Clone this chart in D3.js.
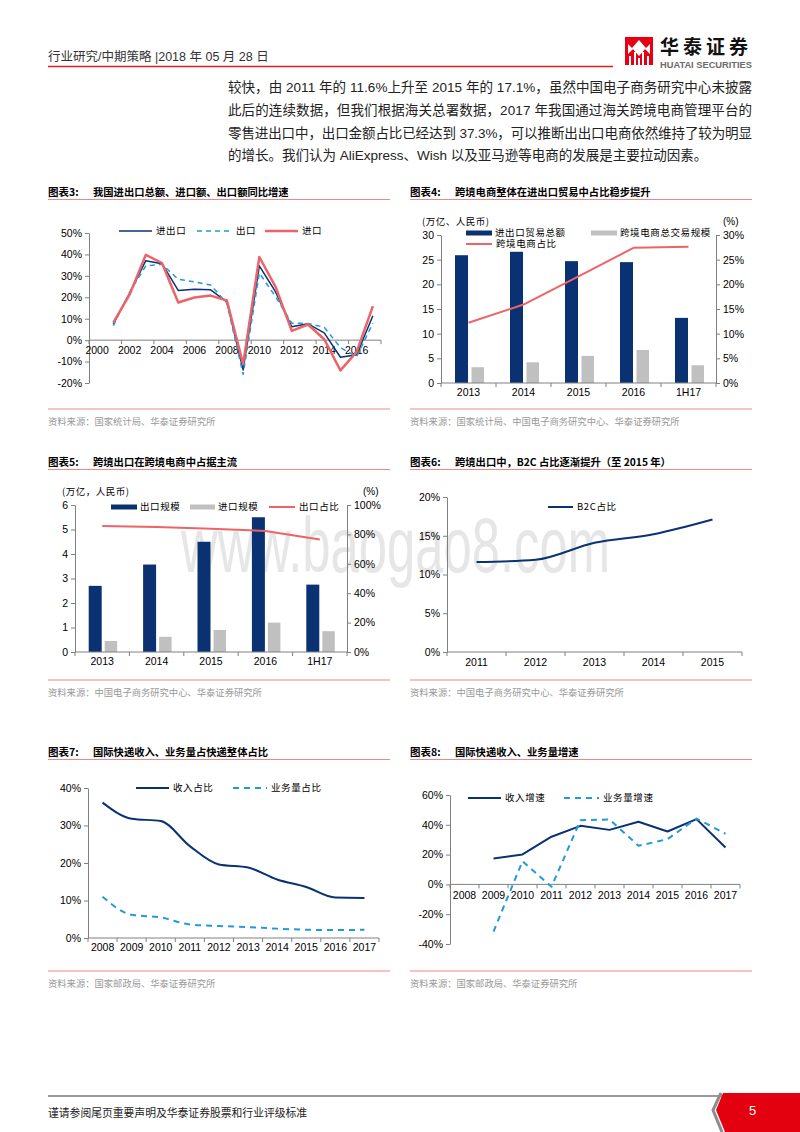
<!DOCTYPE html>
<html>
<head>
<meta charset="utf-8">
<script src="https://cdn.jsdelivr.net/npm/d3@7/dist/d3.min.js"></script>
<style>
  body { margin: 0; background: #fff; }
  svg text { font-family: "Liberation Sans", Arial, "Noto Sans CJK SC", sans-serif; }
</style>
</head>
<body>
<svg id="page" width="800" height="1132"></svg>
<script>
// ---- data ----
var tradeYears = ["2000","2001","2002","2003","2004","2005","2006","2007","2008","2009","2010","2011","2012","2013","2014","2015","2016","2017"];
var tradeLineYears = ["2001","2002","2003","2004","2005","2006","2007","2008","2009","2010","2011","2012","2013","2014","2015","2016","2017"];
var tradeTotal  = [7.5, 21.8, 37.1, 35.7, 23.2, 23.8, 23.5, 17.8, -13.9, 34.7, 22.5, 6.2, 7.6, 3.4, -8.0, -6.8, 11.4];
var tradeExport = [6.8, 22.4, 34.6, 35.4, 28.4, 27.2, 25.7, 17.2, -16.0, 31.3, 20.3, 7.9, 7.8, 6.0, -3.5, -7.7, 7.9];
var tradeImport = [8.2, 21.2, 39.8, 36.0, 17.6, 19.9, 20.8, 18.5, -11.2, 38.8, 24.9, 4.3, 7.3, 0.4, -14.1, -5.5, 15.9];
var tradeTicks = [-20, -10, 0, 10, 20, 30, 40, 50];

var cbCats  = ["2013","2014","2015","2016","1H17"];
var cbTrade = [25.9, 26.6, 24.7, 24.5, 13.2];
var cbEcom  = [3.2, 4.2, 5.5, 6.7, 3.6];
var cbShare = [12.2, 15.9, 21.6, 27.4, 27.6];
var cbTicks = [0, 5, 10, 15, 20, 25, 30];

var exCats   = ["2013","2014","2015","2016","1H17"];
var exExport = [2.7, 3.57, 4.5, 5.5, 2.75];
var exImport = [0.45, 0.62, 0.9, 1.2, 0.85];
var exShare  = [85.7, 85.0, 83.9, 82.3, 76.6];
var exTicks  = [0, 1, 2, 3, 4, 5, 6];
var exPctTicks = [0, 20, 40, 60, 80, 100];

var b2cYears = ["2011","2012","2013","2014","2015"];
var b2cShare = [11.6, 11.9, 14.1, 15.2, 17.1];
var b2cTicks = [0, 5, 10, 15, 20];

var expYears = ["2008","2009","2010","2011","2012","2013","2014","2015","2016","2017"];
var revShare = [36.1, 31.8, 31.2, 24.5, 19.6, 18.8, 15.6, 13.6, 10.8, 10.7];
var volShare = [11.0, 6.2, 5.5, 3.6, 3.2, 2.9, 2.5, 2.2, 2.1, 2.2];
var shareTicks = [0, 10, 20, 30, 40];

var growthYears = ["2009","2010","2011","2012","2013","2014","2015","2016","2017"];
var revGrowth = [17.4, 20.1, 32.0, 39.3, 36.6, 42.0, 35.5, 43.8, 24.8];
var volGrowth = [-31.7, 15.6, -1.6, 43.1, 43.6, 25.9, 30.4, 44.2, 34.0];
var growthTicks = [-40, -20, 0, 20, 40, 60];

// ---- look ----
var navy = "#0a3272", sky = "#1f9bd7", salmon = "#ec6468", grey = "#c0c0c0";
var axisColor = "#808080", cjk = "'Noto Sans CJK SC', sans-serif";
var pct = function(d) { return d + "%"; };

var svg = d3.select("#page");

// watermark behind everything
svg.append("text")
    .attr("x", 181).attr("y", 572)
    .attr("textLength", 429).attr("lengthAdjust", "spacingAndGlyphs")
    .style("font-size", "77px").style("fill", "#e6e6e6")
    .text("www.baogao8.com");

// ---- page header ----
svg.append("text")
    .attr("x", 48).attr("y", 61)
    .style("font-size", "12.5px").style("fill", "#333")
    .text("行业研究/中期策略 |2018 年 05 月 28 日");
svg.append("line")
    .attr("x1", 48).attr("x2", 613).attr("y1", 66.5).attr("y2", 66.5)
    .attr("stroke", "#e0201b").attr("stroke-width", 1.5);

var logo = svg.append("g");
logo.append("rect").attr("x", 625).attr("y", 37).attr("width", 28).attr("height", 28).attr("fill", "#e60012");
logo.append("path")
    .attr("d", "M639,40 L646,48 L639,56 L632,48 Z M628,44 L633,49 L628,54 Z M650,44 L645,49 L650,54 Z")
    .attr("fill", "#fff");
logo.append("path")
    .attr("d", "M629,56 h2 v9 h-2 Z M634,52 h2 v13 h-2 Z M638,58 h2 v7 h-2 Z M642,52 h2 v13 h-2 Z M647,56 h2 v9 h-2 Z")
    .attr("fill", "#fff");
logo.append("text")
    .attr("x", 660).attr("y", 54)
    .style("font-family", cjk).style("font-weight", "bold").style("font-size", "19px")
    .style("letter-spacing", "4px").style("fill", "#111")
    .text("华泰证券");
logo.append("text")
    .attr("x", 660).attr("y", 67.5)
    .attr("textLength", 92).attr("lengthAdjust", "spacingAndGlyphs")
    .style("font-size", "8.5px").style("font-weight", "bold").style("fill", "#6b6b6b")
    .text("HUATAI SECURITIES");

// ---- paragraph ----
var paraLines = [
  "较快，由 2011 年的 11.6%上升至 2015 年的 17.1%，虽然中国电子商务研究中心未披露",
  "此后的连续数据，但我们根据海关总署数据，2017 年我国通过海关跨境电商管理平台的",
  "零售进出口中，出口金额占比已经达到 37.3%，可以推断出出口电商依然维持了较为明显",
  "的增长。我们认为 AliExpress、Wish 以及亚马逊等电商的发展是主要拉动因素。"
];
svg.selectAll(".para").data(paraLines).join("text")
    .attr("class", "para")
    .attr("x", 228)
    .attr("y", function(d, i) { return 92 + i * 22.8; })
    .attr("textLength", function(d, i) { return i < 3 ? 524 : null; })
    .attr("lengthAdjust", "spacing")
    .style("font-size", "13.5px").style("fill", "#222")
    .text(function(d) { return d; });

// ---- shared pieces ----
function frame(x0, titleY, label, title, sourceY, source) {
  svg.append("text").attr("x", x0).attr("y", titleY + 4)
      .style("font-family", cjk).style("font-weight", "bold").style("font-size", "10.5px")
      .text(label);
  svg.append("text").attr("x", x0 + 45).attr("y", titleY + 4)
      .style("font-family", cjk).style("font-weight", "bold").style("font-size", "10.3px")
      .text(title);
  svg.append("line").attr("x1", x0).attr("x2", x0 + 342).attr("y1", titleY + 7.5).attr("y2", titleY + 7.5)
      .attr("stroke", "#e88a86").attr("stroke-width", 1.2);
  svg.append("line").attr("x1", x0).attr("x2", x0 + 342).attr("y1", sourceY - 12).attr("y2", sourceY - 12)
      .attr("stroke", "#e88a86").attr("stroke-width", 1.2);
  svg.append("text").attr("x", x0).attr("y", sourceY + 3.5)
      .style("font-family", cjk).style("font-size", "9.3px").style("fill", "#999")
      .text(source);
}

function styleAxis(sel) {
  sel.select(".domain").attr("stroke", axisColor);
  sel.selectAll(".tick line").attr("stroke", axisColor);
  sel.selectAll(".tick text").attr("fill", "#000")
      .style("font-family", "'Liberation Sans', Arial, sans-serif").style("font-size", "10.5px");
}

function valueAxis(x, y, ticks, fmt, right) {
  var ax = right ? d3.axisRight(y) : d3.axisLeft(y);
  svg.append("g")
      .attr("transform", "translate(" + x + ",0)")
      .call(ax.tickValues(ticks).tickFormat(fmt).tickSize(4).tickSizeOuter(0).tickPadding(3))
      .call(styleAxis);
}

function catAxis(x, yPos, labels, every, pad) {
  var g = svg.append("g").attr("transform", "translate(0," + yPos + ")");
  g.call(d3.axisBottom(x).tickValues(labels).tickSize(0).tickPadding(pad)).call(styleAxis);
  g.select(".domain").remove();
  g.append("line").attr("x1", x.range()[0]).attr("x2", x.range()[1]).attr("stroke", axisColor);
  var bounds = x.domain().map(function(d) { return x(d); }).concat([x.range()[1]])
      .filter(function(d, i) { return i % every === 0; });
  g.selectAll(".bt").data(bounds).join("line")
      .attr("x1", function(d) { return d; }).attr("x2", function(d) { return d; })
      .attr("y1", 0).attr("y2", 4).attr("stroke", axisColor);
}

function seriesLine(x, y, cats, vals, color, width, dash, curve) {
  var line = d3.line()
      .x(function(d, i) { return x(cats[i]) + x.bandwidth() / 2; })
      .y(function(d) { return y(d); })
      .curve(curve || d3.curveLinear);
  svg.append("path").datum(vals)
      .attr("d", line).attr("fill", "none")
      .attr("stroke", color).attr("stroke-width", width)
      .attr("stroke-dasharray", dash || null)
      .attr("stroke-linejoin", "round");
}

function legendLine(x1, x2, y, color, width, dash, label) {
  svg.append("line").attr("x1", x1).attr("x2", x2).attr("y1", y).attr("y2", y)
      .attr("stroke", color).attr("stroke-width", width).attr("stroke-dasharray", dash || null);
  legendText(x2 + 4, y, label);
}
function legendRect(x1, x2, y, color, label) {
  svg.append("rect").attr("x", x1).attr("y", y - 2.5).attr("width", x2 - x1).attr("height", 5).attr("fill", color);
  legendText(x2 + 3, y, label);
}
function legendText(x, y, label) {
  svg.append("text").attr("x", x).attr("y", y).attr("dy", "0.35em")
      .style("font-family", cjk).style("font-size", "9.5px").style("letter-spacing", "0.6px")
      .text(label);
}

function bars(x, y, cats, vals, color, offset, w) {
  svg.append("g").selectAll("rect").data(vals).join("rect")
      .attr("x", function(d, i) { return x(cats[i]) + x.bandwidth() / 2 + offset; })
      .attr("y", function(d) { return y(d); })
      .attr("width", w)
      .attr("height", function(d) { return y(0) - y(d); })
      .attr("fill", color);
}

// ---- chart 3 ----
frame(48, 192, "图表3:", "我国进出口总额、进口额、出口额同比增速", 421, "资料来源：国家统计局、华泰证券研究所");
(function() {
  var x = d3.scaleBand().domain(tradeYears).range([89, 381]);
  var y = d3.scaleLinear().domain([-20, 50]).range([383, 233]);
  valueAxis(89, y, tradeTicks, pct, false);
  catAxis(x, y(0), tradeYears.filter(function(d, i) { return i % 2 === 0; }), 2, 6);
  seriesLine(x, y, tradeLineYears, tradeTotal, navy, 1.5);
  seriesLine(x, y, tradeLineYears, tradeExport, sky, 1.5, "5,4");
  seriesLine(x, y, tradeLineYears, tradeImport, salmon, 2.5);
  legendLine(119, 152, 231, navy, 1.5, null, "进出口");
  legendLine(197, 232, 231, sky, 1.5, "5,4", "出口");
  legendLine(265, 298, 231, salmon, 2.5, null, "进口");
})();

// ---- chart 4 ----
frame(410, 192, "图表4:", "跨境电商整体在进出口贸易中占比稳步提升", 421, "资料来源：国家统计局、中国电子商务研究中心、华泰证券研究所");
(function() {
  var x = d3.scaleBand().domain(cbCats).range([441, 716]);
  var y = d3.scaleLinear().domain([0, 30]).range([383, 235]);
  var y2 = d3.scaleLinear().domain([0, 30]).range([383, 235]);
  bars(x, y, cbCats, cbTrade, navy, -13.5, 13);
  bars(x, y, cbCats, cbEcom, grey, 3, 12.5);
  valueAxis(441, y, cbTicks, function(d) { return d; }, false);
  valueAxis(716, y2, cbTicks, pct, true);
  catAxis(x, 383, cbCats, 1, 6);
  seriesLine(x, y2, cbCats, cbShare, salmon, 2);
  svg.append("text").attr("x", 422).attr("y", 225).style("font-family", cjk).style("font-size", "9.5px")
      .style("letter-spacing", "0.5px").text("(万亿、人民币)");
  svg.append("text").attr("x", 723).attr("y", 225).style("font-size", "10px").text("(%)");
  legendRect(466, 492, 233, navy, "进出口贸易总额");
  legendRect(591, 617, 233, grey, "跨境电商总交易规模");
  legendLine(466, 492, 244, salmon, 2, null, "跨境电商占比");
})();

// ---- chart 5 ----
frame(48, 462, "图表5:", "跨境出口在跨境电商中占据主流", 692, "资料来源：中国电子商务研究中心、华泰证券研究所");
(function() {
  var x = d3.scaleBand().domain(exCats).range([75, 347]);
  var y = d3.scaleLinear().domain([0, 6]).range([652, 505]);
  var y2 = d3.scaleLinear().domain([0, 100]).range([652, 505]);
  bars(x, y, exCats, exExport, navy, -13.5, 13);
  bars(x, y, exCats, exImport, grey, 2.5, 12.5);
  valueAxis(75, y, exTicks, function(d) { return d; }, false);
  valueAxis(347, y2, exPctTicks, pct, true);
  catAxis(x, 652, exCats, 1, 6);
  seriesLine(x, y2, exCats, exShare, salmon, 2);
  svg.append("text").attr("x", 62).attr("y", 495).style("font-family", cjk).style("font-size", "9.5px")
      .style("letter-spacing", "0.5px").text("(万亿，人民币)");
  svg.append("text").attr("x", 363).attr("y", 495).style("font-size", "10px").text("(%)");
  legendRect(111, 137, 507, navy, "出口规模");
  legendRect(190, 215, 507, grey, "进口规模");
  legendLine(269, 295, 507, salmon, 2, null, "出口占比");
})();

// ---- chart 6 ----
frame(410, 462, "图表6:", "跨境出口中，B2C 占比逐渐提升（至 2015 年）", 692, "资料来源：中国电子商务研究中心、华泰证券研究所");
(function() {
  var x = d3.scaleBand().domain(b2cYears).range([447, 742]);
  var y = d3.scaleLinear().domain([0, 20]).range([652, 497]);
  valueAxis(447, y, b2cTicks, pct, false);
  catAxis(x, 652, b2cYears, 1, 7);
  seriesLine(x, y, b2cYears, b2cShare, navy, 2, null, d3.curveMonotoneX);
  legendLine(548, 573, 507, navy, 2, null, "B2C占比");
})();

// ---- chart 7 ----
frame(48, 752, "图表7:", "国际快递收入、业务量占快递整体占比", 983, "资料来源：国家邮政局、华泰证券研究所");
(function() {
  var x = d3.scaleBand().domain(expYears).range([88, 379]);
  var y = d3.scaleLinear().domain([0, 40]).range([938, 788]);
  valueAxis(88, y, shareTicks, pct, false);
  catAxis(x, 938, expYears, 1, 6);
  seriesLine(x, y, expYears, revShare, navy, 2, null, d3.curveMonotoneX);
  seriesLine(x, y, expYears, volShare, sky, 2, "6,5", d3.curveMonotoneX);
  legendLine(136, 169, 788, navy, 2, null, "收入占比");
  legendLine(233, 267, 788, sky, 2, "6,5", "业务量占比");
})();

// ---- chart 8 ----
frame(410, 752, "图表8:", "国际快递收入、业务量增速", 983, "资料来源：国家邮政局、华泰证券研究所");
(function() {
  var x = d3.scaleBand().domain(expYears).range([450, 740]);
  var y = d3.scaleLinear().domain([-40, 60]).range([944, 795]);
  valueAxis(450, y, growthTicks, pct, false);
  catAxis(x, y(0), expYears, 1, 7);
  seriesLine(x, y, growthYears, revGrowth, navy, 2);
  seriesLine(x, y, growthYears, volGrowth, sky, 2, "6,5");
  legendLine(468, 501, 798, navy, 2, null, "收入增速");
  legendLine(564, 599, 798, sky, 2, "6,5", "业务量增速");
})();

// ---- footer ----
svg.append("line")
    .attr("x1", 48).attr("x2", 722).attr("y1", 1096).attr("y2", 1096)
    .attr("stroke", "#9a9a9a").attr("stroke-width", 2);
svg.append("path")
    .attr("d", "M721,1093 L713,1110 L722,1132")
    .attr("fill", "none").attr("stroke", "#8c8c8c").attr("stroke-width", 3);
svg.append("path")
    .attr("d", "M723,1093 L800,1093 L800,1132 L725,1132 L716,1110 Z")
    .attr("fill", "#e3000f");
svg.append("text")
    .attr("x", 749).attr("y", 1115)
    .style("font-size", "13px").style("fill", "#fff")
    .text("5");
svg.append("text")
    .attr("x", 48).attr("y", 1117)
    .style("font-family", cjk).style("font-size", "10.8px").style("fill", "#222")
    .text("谨请参阅尾页重要声明及华泰证券股票和行业评级标准");
</script>
</body>
</html>
